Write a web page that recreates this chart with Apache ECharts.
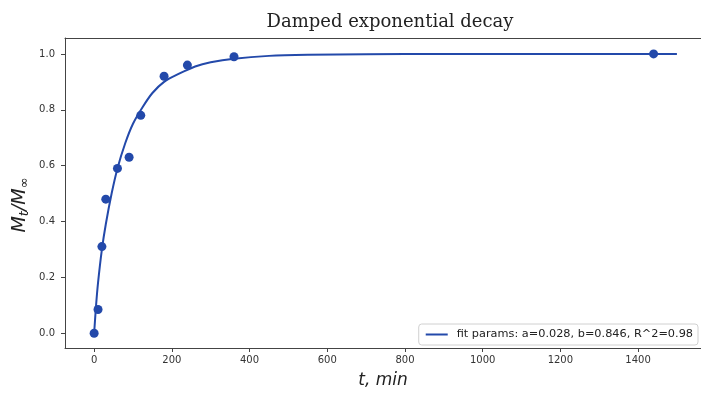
<!DOCTYPE html>
<html>
<head>
<meta charset="utf-8">
<script src="https://cdn.jsdelivr.net/npm/echarts@6/dist/echarts.min.js"></script>
<style>
  html, body { margin: 0; padding: 0; background: #fff; overflow: hidden; }
  #chart { width: 701px; height: 394px; }
</style>
</head>
<body>
<div id="chart"></div>
<script>
// measured points (t in minutes, fraction released)
const obsT = [0, 10, 20, 30, 60, 90, 120, 180, 240, 360, 1440];
const obsM = [0.0, 0.085, 0.31, 0.48, 0.59, 0.63, 0.78, 0.92, 0.96, 0.99, 1.0];

// fitted curve
const fitT = [0, 5, 10, 20, 30, 45, 60, 80, 100, 125, 150, 180, 220, 260, 300, 360, 450, 550, 700, 900, 1200, 1500];
const fitM = [0.0, 0.10, 0.18, 0.30, 0.39, 0.50, 0.59, 0.68, 0.75, 0.81, 0.86, 0.90, 0.93, 0.955, 0.97, 0.983, 0.993, 0.997, 0.999, 1.0, 1.0, 1.0];

const xTicks = [0, 200, 400, 600, 800, 1000, 1200, 1400];
const yTicks = [0.0, 0.2, 0.4, 0.6, 0.8, 1.0];

const fitName = "fit params: a=0.028, b=0.846, R^2=0.98";
const blue = "#2349aa";
const axisColor = "#444";

const chart = echarts.init(document.getElementById("chart"));

const option = {
  animation: false,
  title: {
    text: "Damped exponential decay",
    left: 385,
    textAlign: "center",
    top: 8,
    textStyle: {
      fontFamily: "DejaVu Serif",
      fontWeight: "normal",
      fontSize: 18,
      color: "#222",
    },
  },
  legend: {
    data: [{ name: fitName, icon: "rect" }],
    right: 3,
    top: 324,
    itemWidth: 22,
    itemHeight: 2,
    itemGap: 8,
    padding: [5, 5, 5, 7],
    borderColor: "#d0d0d0",
    borderWidth: 1,
    borderRadius: 3,
    textStyle: {
      fontFamily: "DejaVu Sans",
      fontSize: 11.3,
      color: "#222",
      padding: [0, 0, 0, 4],
    },
  },
  grid: {
    left: 65,
    right: 0,
    top: 38,
    bottom: 42,
  },
  graphic: [
    {
      type: "text",
      x: 20,
      y: 205,
      rotation: Math.PI / 2,
      style: {
        text: "{i|M}{s|t}{i|/M}{s|∞}",
        align: "center",
        verticalAlign: "middle",
        rich: {
          i: {
            fontFamily: "DejaVu Sans",
            fontStyle: "italic",
            fontSize: 19,
            fill: "#222",
          },
          s: {
            fontFamily: "DejaVu Sans",
            fontStyle: "italic",
            fontSize: 13,
            fill: "#222",
            padding: [10, 0, 0, 0],
          },
        },
      },
    },
  ],
  xAxis: [
    {
      type: "value",
      min: -75,
      max: 1562,
      name: "t, min",
      nameLocation: "middle",
      nameGap: 24,
      nameTextStyle: {
        fontFamily: "DejaVu Sans",
        fontStyle: "italic",
        fontSize: 17,
        color: "#222",
      },
      axisLine: { show: true, onZero: false, lineStyle: { color: axisColor } },
      axisTick: {
        show: true,
        length: 4,
        customValues: xTicks,
        lineStyle: { color: axisColor },
      },
      axisLabel: {
        customValues: xTicks,
        formatter: (v) => String(v),
        fontFamily: "DejaVu Sans",
        fontSize: 10,
        color: "#333",
        margin: 7,
      },
      splitLine: { show: false },
    },
    {
      // top spine only
      type: "value",
      position: "top",
      min: -75,
      max: 1562,
      axisLine: { show: true, onZero: false, lineStyle: { color: axisColor } },
      axisTick: { show: false },
      axisLabel: { show: false },
      splitLine: { show: false },
    },
  ],
  yAxis: {
    type: "value",
    min: -0.053,
    max: 1.057,
    axisLine: { show: true, onZero: false, lineStyle: { color: axisColor } },
    axisTick: {
      show: true,
      length: 4,
      customValues: yTicks,
      lineStyle: { color: axisColor },
    },
    axisLabel: {
      customValues: yTicks,
      formatter: (v) => v.toFixed(1),
      fontFamily: "DejaVu Sans",
      fontSize: 10,
      color: "#333",
      margin: 10,
    },
    splitLine: { show: false },
  },
  series: [
    {
      name: fitName,
      type: "line",
      smooth: 0.3,
      showSymbol: false,
      data: fitT.map((t, i) => [t, fitM[i]]),
      lineStyle: { color: blue, width: 2 },
      itemStyle: { color: blue },
      z: 2,
    },
    {
      name: "data",
      type: "scatter",
      symbolSize: 9,
      data: obsT.map((t, i) => [t, obsM[i]]),
      itemStyle: { color: blue, opacity: 1 },
      z: 3,
    },
  ],
};

chart.setOption(option);
</script>
</body>
</html>
